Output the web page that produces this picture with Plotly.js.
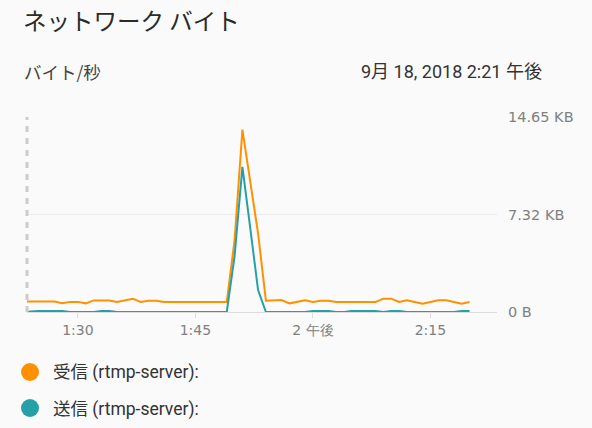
<!DOCTYPE html>
<html>
<head>
<meta charset="utf-8">
<script src="https://cdn.plot.ly/plotly-3.0.1.min.js"></script>
<style>
html,body{margin:0;padding:0;background:#fafafa;}
#chart{width:592px;height:428px;}
</style>
</head>
<body>
<div id="chart"></div>
<script>
// Minutes (13:23 .. 14:20) on 2018-09-18
const times = [];
for (let m = 23; m <= 80; m++) {
  const h = 13 + Math.floor(m / 60), mm = m % 60;
  times.push('2018-09-18 ' + String(h).padStart(2,'0') + ':' + String(mm).padStart(2,'0') + ':00');
}
// Received (KB/s) 13:23 .. 14:20
const received = [
  0.78, 0.78, 0.78, 0.78, 0.78, 0.65, 0.76, 0.76, 0.65, 0.87,
  0.87, 0.87, 0.75, 0.85, 1.00, 0.75, 0.85, 0.85, 0.75, 0.75,
  0.75, 0.75, 0.75, 0.75, 0.75, 0.75, 0.75, 5.4, 13.7, 9.8,
  5.9, 0.85, 0.90, 0.90, 0.65, 0.75, 0.88, 0.75, 0.85, 0.85,
  0.75, 0.75, 0.75, 0.75, 0.75, 0.75, 1.00, 1.00, 0.75, 0.88,
  0.75, 0.63, 0.75, 0.88, 0.88, 0.75, 0.63, 0.75
];
// Sent (KB/s) 13:23 .. 14:20
const sent = [
  0.00, 0.05, 0.07, 0.07, 0.07, 0.07, 0.00, 0.00, 0.00, 0.00,
  0.07, 0.07, 0.00, 0.00, 0.00, 0.00, 0.00, 0.00, 0.00, 0.00,
  0.00, 0.00, 0.00, 0.00, 0.00, 0.00, 0.00, 4.2, 10.9, 6.3,
  1.65, 0.00, 0.00, 0.00, 0.00, 0.00, 0.00, 0.07, 0.07, 0.07,
  0.00, 0.00, 0.07, 0.07, 0.07, 0.07, 0.00, 0.07, 0.07, 0.00,
  0.00, 0.00, 0.00, 0.00, 0.00, 0.00, 0.07, 0.07
];
const yTickVals = [0, 7.32, 14.65];
const yTickText = ['0 B', '7.32 KB', '14.65 KB'];
const xTickVals = ['2018-09-18 13:30', '2018-09-18 13:45', '2018-09-18 14:00', '2018-09-18 14:15'];
const xTickText = ['1:30', '1:45', '2 午後', '2:15'];
const seriesNames = ['受信 (rtmp-server):', '送信 (rtmp-server):'];
const seriesColors = ['#ff9100', '#26a0a8'];

const W = 592, H = 428, L = 27, R = 95, T = 117, B = 116;
const pw = W - L - R, ph = H - T - B;
const px = x => (x - L) / pw;
const py = y => (H - B - y) / ph;

const cjk = 'Roboto, "Noto Sans CJK JP", sans-serif';

const traces = [
  {x: times, y: received, type: 'scatter', mode: 'lines', name: seriesNames[0],
   line: {color: seriesColors[0], width: 2}, hoverinfo: 'skip'},
  {x: times, y: sent, type: 'scatter', mode: 'lines', name: seriesNames[1],
   line: {color: seriesColors[1], width: 2}, hoverinfo: 'skip'}
];

const annotations = [
  {text: 'ネットワーク バイト', x: px(21), y: py(20), xanchor: 'left', yanchor: 'middle',
   font: {family: '"Noto Sans CJK JP", sans-serif', size: 23.5, color: '#2a2a2a'}},
  {text: 'バイト/秒', x: px(22), y: py(72), xanchor: 'left', yanchor: 'middle',
   font: {family: '"Noto Sans CJK JP", sans-serif', size: 17.5, color: '#444444'}},
  {text: '9月 18, 2018 2:21 午後', x: px(544), y: py(72), xanchor: 'right', yanchor: 'middle',
   font: {family: cjk, size: 18, color: '#333333'}},
  {text: seriesNames[0], x: px(51), y: py(372), xanchor: 'left', yanchor: 'middle',
   font: {family: cjk, size: 17.5, color: '#333333'}},
  {text: seriesNames[1], x: px(51), y: py(409), xanchor: 'left', yanchor: 'middle',
   font: {family: cjk, size: 17.5, color: '#333333'}}
].map(a => Object.assign({xref: 'paper', yref: 'paper', showarrow: false}, a));

const shapes = [
  {type: 'line', xref: 'paper', yref: 'paper', x0: 0, x1: 0, y0: 0, y1: 1,
   line: {color: '#cccccc', width: 3, dash: '6px,6px'}},
  {type: 'circle', xref: 'paper', yref: 'paper', x0: px(21), x1: px(39), y0: py(363), y1: py(381),
   fillcolor: seriesColors[0], line: {width: 0}},
  {type: 'circle', xref: 'paper', yref: 'paper', x0: px(21), x1: px(39), y0: py(399), y1: py(417),
   fillcolor: seriesColors[1], line: {width: 0}}
];

const layout = {
  width: W, height: H,
  margin: {l: L, r: R, t: T, b: B, pad: 0},
  paper_bgcolor: '#fafafa', plot_bgcolor: '#fafafa',
  showlegend: false,
  xaxis: {
    type: 'date',
    range: ['2018-09-18 13:23:30', '2018-09-18 14:23:30'],
    tickmode: 'array', tickvals: xTickVals, ticktext: xTickText,
    ticks: 'outside', ticklen: 5, tickcolor: '#dddddd', tickwidth: 1,
    showgrid: false, showline: true, linecolor: '#dddddd', linewidth: 1,
    zeroline: false,
    tickfont: {family: '"DejaVu Sans", sans-serif', size: 14, color: '#808080'},
    fixedrange: true
  },
  yaxis: {
    range: [0, 14.65], side: 'right',
    tickmode: 'array', tickvals: yTickVals, ticktext: yTickText,
    showgrid: true, gridcolor: '#ebebeb', gridwidth: 1,
    zeroline: false, showline: false, ticks: '',
    ticklabelstandoff: 10,
    tickfont: {family: '"DejaVu Sans", sans-serif', size: 14.5, color: '#808080'},
    fixedrange: true
  },
  annotations: annotations,
  shapes: shapes
};

Plotly.newPlot('chart', traces, layout, {displayModeBar: false, staticPlot: true});
</script>
</body>
</html>
